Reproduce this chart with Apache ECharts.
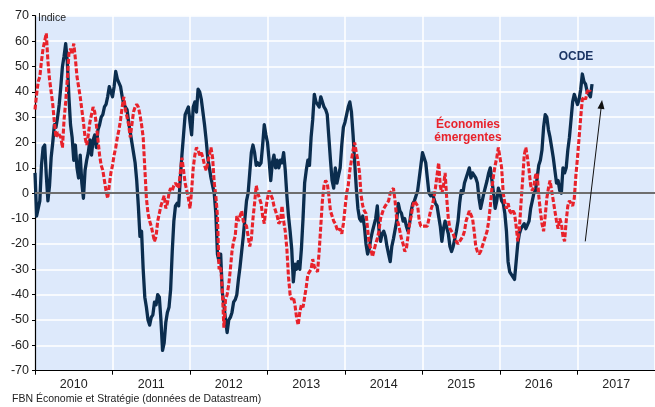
<!DOCTYPE html>
<html>
<head>
<meta charset="utf-8">
<script src="https://cdn.jsdelivr.net/npm/echarts@6/dist/echarts.min.js"></script>
<style>
html,body{margin:0;padding:0;background:#fff;}
#c{width:655px;height:407px;}
</style>
</head>
<body>
<div id="c"></div>
<script>
// Time: first observation at 2010.0, 48 observations per year (about weekly)
const startYear = 2010;
const perYear = 48;
const yearLabels = ['2010','2011','2012','2013','2014','2015','2016','2017'];
const yTicks = {min: -70, max: 70, step: 10};

const ocde = [8,-9,-6,-3,11,18,19,7,-3,3,
 14,20,27,26,30,35,42,50,54,59,
 52,38,27,22,13,19,10,6,15,4,
 -2,9,13,16,21,15,21,23,18,25,
 27,30,31,34,35,38,42,40,38,42,
 48,45,45,42,38,35,35,33,28,24,
 20,16,12,5,-5,-17,-15,-30,-41,-45,
 -50,-52,-49,-48,-43,-44,-40,-41,-50,-62,
 -59,-51,-47,-45,-38,-23,-11,-5,-4,-5,
 6,15,23,31,31,34,28,23,34,36,
 32,41,40,37,32,27,21,14,10,6,
 3,0,-8,-24,-27,-24,-39,-44,-50,-55,
 -50,-49,-47,-43,-42,-40,-34,-29,-23,-17,
 -10,-3,0,8,16,19,16,11,12,11,
 12,19,27,23,20,13,5,12,15,10,
 13,10,13,12,16,9,-1,-9,-15,-22,
 -35,-28,-30,-27,-30,-22,-10,4,9,13,
 11,22,29,39,36,36,34,38,38,34,
 33,31,22,13,5,2,10,4,7,10,
 19,26,28,31,34,36,32,23,12,2,
 -6,-10,-11,-9,-13,-20,-24,-22,-18,-15,
 -15,-10,-5,-14,-19,-16,-15,-17,-21,-24,
 -27,-21,-18,-18,-11,-4,-7,-8,-11,-10,
 -13,-15,-12,-7,-4,-3,-1,1,6,11,
 16,16,12,6,0,-1,0,-2,-4,-5,
 -5,-13,-19,-14,-11,-11,-16,-21,-23,-21,
 -18,-15,-11,-4,1,0,4,6,8,10,
 6,8,8,6,4,-2,-6,-3,0,0,
 5,8,10,5,0,-6,-3,2,0,-3,
 -4,-8,-15,-27,-31,-32,-33,-34,-27,-20,
 -16,-14,-14,-12,-14,-14,-11,-6,-3,0,
 1,6,11,13,17,26,31,30,25,22,
 18,14,9,4,5,1,0,10,8,10,
 17,22,29,36,39,37,35,37,41,47,
 44,43,40,39,38,43];

const emergentes = [33,39,44,46,52,57,60,63,52,45,
 40,35,28,22,24,24,22,18,29,36,
 45,55,57,55,59,53,46,42,38,33,
 28,22,19,23,28,31,34,32,27,21,
 15,11,9,5,1,-2,3,8,11,15,
 18,22,25,29,34,38,33,33,27,22,
 27,32,34,35,34,31,27,22,10,-2,
 -8,-11,-13,-16,-19,-17,-11,-8,-5,-3,
 -1,-6,-4,0,2,1,3,4,4,2,
 8,14,9,4,1,-2,-6,1,10,15,
 18,17,15,16,14,11,9,12,15,18,
 14,4,-1,-9,-30,-29,-38,-53,-42,-40,
 -36,-30,-23,-19,-17,-9,-11,-9,-7,-11,
 -12,-13,-17,-21,-18,-10,-4,3,0,0,
 -4,-9,-12,-6,-2,1,1,-2,-5,-7,
 -9,-12,-11,-5,-11,-15,-22,-33,-40,-42,
 -41,-44,-49,-52,-47,-44,-45,-41,-37,-32,
 -31,-30,-26,-29,-29,-31,-23,-13,-3,3,
 5,4,-1,-7,-9,-11,-12,-14,-15,-14,
 -16,-12,-6,0,3,9,13,17,20,16,
 13,8,-1,-5,-7,-8,-14,-20,-22,-25,
 -25,-20,-18,-15,-10,-8,-6,-5,-5,-3,
 0,1,2,-3,-10,-12,-15,-18,-20,-23,
 -22,-17,-12,-9,-5,-3,-3,-5,-11,-13,
 -13,-13,-13,-13,-10,-7,-5,-2,2,7,
 12,3,0,3,8,-2,-10,-14,-15,-16,
 -18,-18,-20,-19,-18,-17,-15,-11,-9,-7,
 -7,-10,-15,-21,-23,-24,-23,-21,-19,-17,
 -15,-11,-5,2,7,11,14,18,18,10,
 0,-4,-6,-4,-7,-8,-7,-8,-13,-19,
 -14,-4,5,15,18,14,9,3,1,3,
 7,8,-1,-7,-12,-15,-9,-2,2,5,
 1,-3,-7,-11,-14,-10,-12,-17,-19,-11,
 -5,-3,-4,-5,-2,7,14,22,30,37,
 38,37,40,41,40];

// Trend arrow (data coordinates: [year, index])
const arrowFrom = [2017.10, -19];
const arrowTo = [2017.31, 35];

const toPairs = arr => arr.map((v, i) => [startYear + i / perYear, v]);

const chart = echarts.init(document.getElementById('c'), null, {renderer: 'canvas'});
const FONT = '"Liberation Sans", Arial, sans-serif';
chart.setOption({
  animation: false,
  backgroundColor: '#ffffff',
  textStyle: {fontFamily: FONT},
  grid: {left: 35, right: 0, top: 15.7, bottom: 36.3, show: true,
         backgroundColor: '#dde9fb', borderWidth: 0},
  xAxis: [{
    type: 'value', min: startYear, max: startYear + yearLabels.length, interval: 1,
    axisLine: {show: true, onZero: false, lineStyle: {color: '#000', width: 1.2}},
    axisTick: {show: true, length: 4, lineStyle: {color: '#000'}},
    axisLabel: {show: false},
    splitLine: {show: true, lineStyle: {color: '#ffffff', width: 1.5}}
  }, {
    type: 'category', data: yearLabels, boundaryGap: true, position: 'bottom',
    axisLine: {show: false}, axisTick: {show: false}, splitLine: {show: false},
    axisLabel: {fontSize: 12.5, color: '#222', margin: 7, fontFamily: FONT}
  }],
  yAxis: {
    type: 'value', min: yTicks.min, max: yTicks.max, interval: yTicks.step,
    axisLine: {show: true, lineStyle: {color: '#000', width: 1.2}},
    axisTick: {show: true, length: 3, lineStyle: {color: '#000'}},
    axisLabel: {fontSize: 12.5, color: '#222', margin: 6, fontFamily: FONT},
    splitLine: {show: true, lineStyle: {color: '#ffffff', width: 1.5}}
  },
  series: [
    {
      type: 'line', data: [], z: 1, silent: true,
      markLine: {
        silent: true, symbol: ['none', 'none'], label: {show: false},
        lineStyle: {color: '#6e6e6e', width: 2, type: 'solid'},
        data: [{yAxis: 0}]
      }
    },
    {
      name: 'OCDE', type: 'line', data: toPairs(ocde), showSymbol: false, z: 3,
      lineStyle: {color: '#0b2d4e', width: 3.3, join: 'round'}, itemStyle: {color: '#0b2d4e'}
    },
    {
      name: 'Économies émergentes', type: 'line', data: toPairs(emergentes), showSymbol: false, z: 4,
      lineStyle: {color: '#e8222b', width: 3.1, type: [5, 2]}, itemStyle: {color: '#e8222b'},
      markLine: {
        silent: true, symbol: ['none', 'triangle'], symbolSize: [7, 9], label: {show: false},
        lineStyle: {color: '#111', width: 1, type: 'solid'},
        data: [[{coord: arrowFrom}, {coord: arrowTo}]]
      }
    }
  ],
  graphic: [
    {type: 'text', z: 100, left: 38, top: 13, style: {text: 'Indice', font: '10.5px ' + FONT, fill: '#222'}},
    {type: 'text', z: 100, left: 12, top: 394, style: {text: 'FBN Économie et Stratégie (données de Datastream)', font: '10.5px ' + FONT, fill: '#222'}},
    {type: 'text', z: 100, x: 576, y: 57, style: {text: 'OCDE', font: 'bold 12px ' + FONT, fill: '#1b3564', align: 'center', verticalAlign: 'middle'}},
    {type: 'text', z: 100, x: 468, y: 131, style: {text: 'Économies\némergentes', font: 'bold 12px ' + FONT, fill: '#e8222b', align: 'center', verticalAlign: 'middle', lineHeight: 13}}
  ]
});
</script>
</body>
</html>
